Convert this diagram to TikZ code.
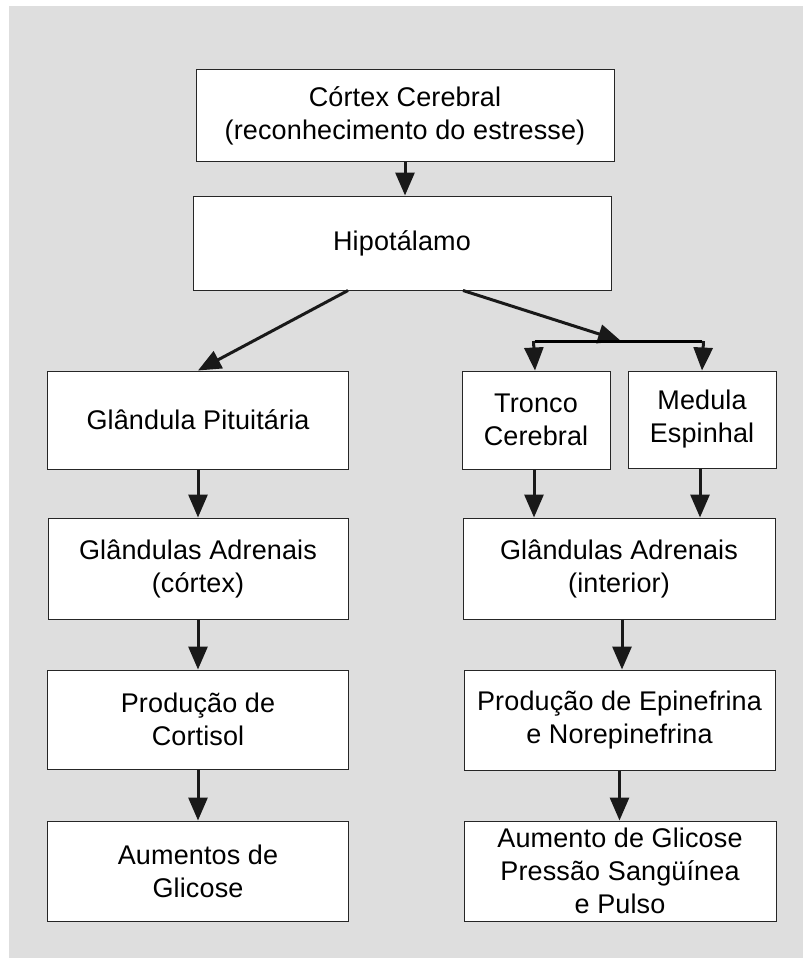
\documentclass[tikz,border=0pt]{standalone}
\usepackage{fontspec}
\setmainfont{Liberation Sans}[LetterSpace=0.5]
\usetikzlibrary{arrows.meta}
\definecolor{bggray}{RGB}{222,222,222}
\begin{document}
\begin{tikzpicture}[x=1pt, y=-1pt,
    box/.style={draw=black!85, fill=white, line width=1pt, align=center,
      inner sep=0pt, font=\fontsize{27}{33}\selectfont},
    flow/.style={line width=3pt, draw=black!90,
      -{Triangle[length=23pt, width=19pt]}}]
   \useasboundingbox (0,0) rectangle (803,958);
   \fill[white] (0,0) rectangle (803,958);
   \fill[bggray] (9,6) rectangle (803,958);

   % boxes
   \node[box, minimum width=418pt, minimum height=91pt] (cortex) at (405,115.5)
     {Córtex Cerebral\\(reconhecimento do estresse)};
   \node[box, minimum width=418pt, minimum height=94pt] (hipo) at (402,243) {Hipotálamo};

   \node[box, minimum width=301pt, minimum height=98pt] (pit) at (198,420) {Glândula Pituitária};
   \node[box, minimum width=300pt, minimum height=101pt] (adrc) at (198,568.5) {Glândulas Adrenais\\(córtex)};
   \node[box, minimum width=301pt, minimum height=99pt] (cort) at (198,719.5) {Produção de\\Cortisol};
   \node[box, minimum width=301pt, minimum height=100pt] (aum) at (198,871) {Aumentos de\\Glicose};

   \node[box, minimum width=148pt, minimum height=98pt] (tronco) at (536,420) {Tronco\\Cerebral};
   \node[box, minimum width=148pt, minimum height=97pt] (medula) at (702,419.5) {Medula\\Espinhal};
   \node[box, minimum width=312pt, minimum height=101pt] (adri) at (619,568.5) {Glândulas Adrenais\\(interior)};
   \node[box, minimum width=311pt, minimum height=100pt] (epin) at (619.5,720) {Produção de Epinefrina\\e Norepinefrina};
   \node[box, minimum width=312pt, minimum height=100pt] (aumr) at (620,871) {Aumento de Glicose\\Pressão Sangüínea\\e Pulso};

   % fork under Hipotálamo
   \coordinate (hl) at ([xshift=-54pt]hipo.south);
   \coordinate (hr) at ([xshift=61pt]hipo.south);
   \coordinate (fork) at (621,341);
   \coordinate (fl) at (535,341);
   \coordinate (fr) at (702,341);

   % connectors
   \draw[flow] (cortex.south) -- (cortex.south |- hipo.north);
   \draw[flow] (hl) -- (pit.north);
   \draw[flow] (hr) -- (fork);
   \draw[line width=3pt] (fl) -- (fr);
   \draw[flow] ([xshift=-1.5pt]fl) -- (fl |- tronco.north);
   \draw[flow] ([xshift=1.5pt]fr) -- (fr |- medula.north);

   \draw[flow] (pit.south) -- (adrc.north);
   \draw[flow] (adrc.south) -- (cort.north);
   \draw[flow] (cort.south) -- (aum.north);

   \draw[flow] ([xshift=-2pt]tronco.south) -- ([xshift=-2pt]tronco.south |- adri.north);
   \draw[flow] ([xshift=-2pt]medula.south) -- ([xshift=-2pt]medula.south |- adri.north);
   \draw[flow] ([xshift=3pt]adri.south) -- ([xshift=3pt]adri.south |- epin.north);
   \draw[flow] (epin.south) -- (epin.south |- aumr.north);
\end{tikzpicture}
\end{document}
